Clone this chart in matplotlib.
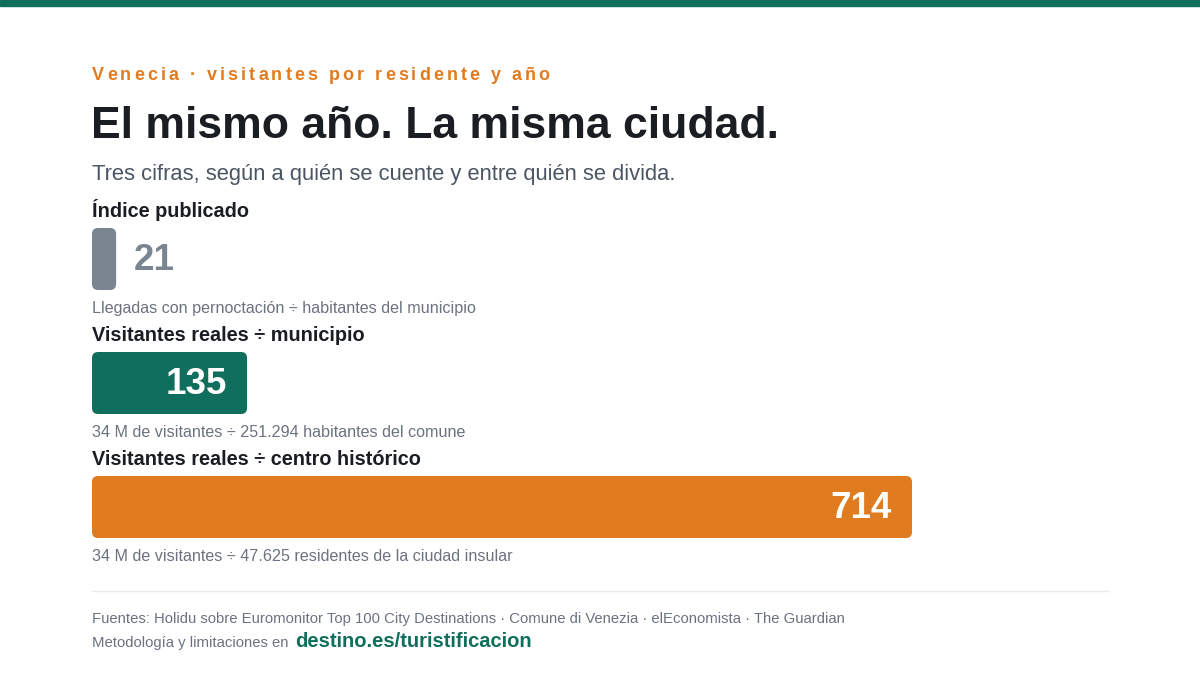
import matplotlib.pyplot as plt
from matplotlib.patches import FancyBboxPatch, Rectangle

plt.rcParams["font.family"] = ["Liberation Sans", "DejaVu Sans"]

# data
labels = ["Índice publicado", "Visitantes reales ÷ municipio", "Visitantes reales ÷ centro histórico"]
values = [21, 135, 714]
notes = ["Llegadas con pernoctación ÷ habitantes del municipio",
         "34 M de visitantes ÷ 251.294 habitantes del comune",
         "34 M de visitantes ÷ 47.625 residentes de la ciudad insular"]
colors = ["#7b8591", "#0f6e5c", "#e07b1f"]

kicker = "Venecia · visitantes por residente y año"
title = "El mismo año. La misma ciudad."
subtitle = "Tres cifras, según a quién se cuente y entre quién se divida."
source = "Fuentes: Holidu sobre Euromonitor Top 100 City Destinations · Comune di Venezia · elEconomista · The Guardian"
method = "Metodología y limitaciones en "
link = "destino.es/turistificacion"

W, H = 1200, 675
fig = plt.figure(figsize=(12, 6.75), dpi=100)
fig.patch.set_facecolor("white")

def fx(x):
    return x / W

def fy(y):
    return 1 - y / H

# top band
fig.patches.append(Rectangle((0, fy(6)), 1, 6 / H, transform=fig.transFigure,
                             color="#0f6e5c", zorder=0))

# kicker with letter spacing
r = fig.canvas.get_renderer()
x = 92
for ch in kicker:
    t = fig.text(fx(x), fy(80), ch, fontsize=13, fontweight="bold", color="#e07b1f", va="baseline")
    w = t.get_window_extent(r).width if ch != " " else 4.8
    x += w + 3.1

fig.text(fx(91), fy(138), title, fontsize=32, fontweight="bold", color="#1a1d21", va="baseline")
fig.text(fx(92), fy(180), subtitle, fontsize=15.8, color="#4b5563", va="baseline")

# bars
x0, x1 = 92, 912
top, bot = 228, 538
ax = fig.add_axes([fx(x0), fy(bot), (x1 - x0) / W, (bot - top) / H])
ax.set_xlim(0, max(values))
ax.set_ylim(bot - top, 0)
ax.axis("off")

xpp = max(values) / (x1 - x0)  # data units per pixel in x
bh = 62
step = 124
for i, (lab, v, n, c) in enumerate(zip(labels, values, notes, colors)):
    yb = step * i
    p = FancyBboxPatch((0, yb), v, bh, boxstyle=f"round,pad=0,rounding_size={6 * xpp}",
                       mutation_aspect=1 / xpp, facecolor=c, edgecolor="none")
    ax.add_patch(p)
    ybase = top + yb
    fig.text(fx(92), fy(ybase - 11), lab, fontsize=14.3, fontweight="bold", color="#1a1d21", va="baseline")
    fig.text(fx(92), fy(ybase + 85), n, fontsize=11.6, color="#6b7280", va="baseline")
    if i == 0:
        ax.text(v + 18 * xpp, yb + bh / 2 + 1, str(v), fontsize=26.5, fontweight="bold",
                color="#7b8591", va="center", ha="left")
    else:
        ax.text(v - 20 * xpp, yb + bh / 2 + 1, str(v), fontsize=26.5, fontweight="bold",
                color="white", va="center", ha="right")

# separator and footer
fig.add_artist(plt.Line2D([fx(92), fx(1108)], [fy(591), fy(591)], color="#e8eaed", lw=1))
fig.text(fx(92), fy(623), source, fontsize=10.7, color="#6b7280", va="baseline")
t = fig.text(fx(92), fy(647), method, fontsize=10.7, color="#6b7280", va="baseline")
wm = t.get_window_extent(r).width
fig.text(fx(92 + wm + 2), fy(647), link, fontsize=14.5, fontweight="bold", color="#0f6e5c", va="baseline")

fig.savefig("out.png", dpi=100, facecolor="white")
